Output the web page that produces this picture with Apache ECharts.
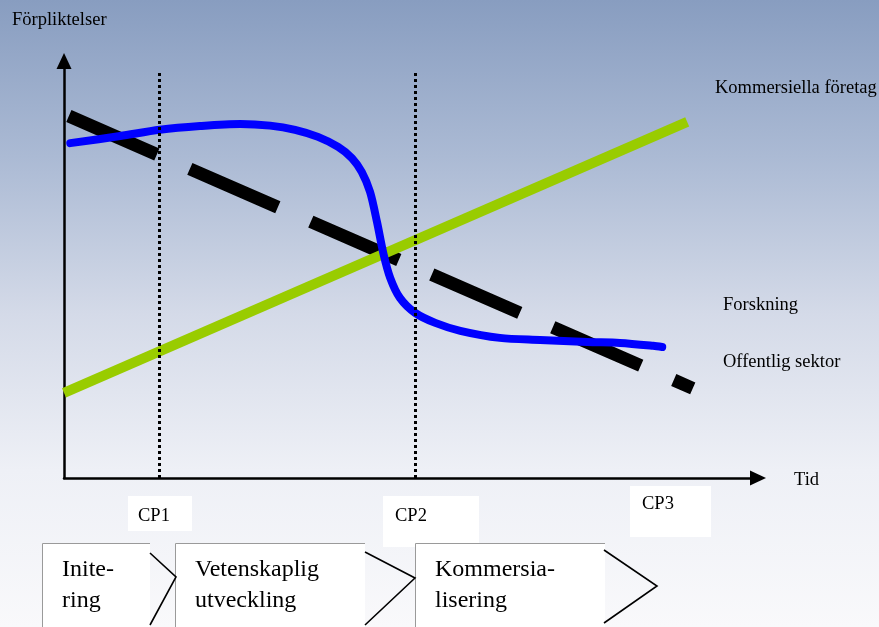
<!DOCTYPE html>
<html>
<head>
<meta charset="utf-8">
<script src="https://cdn.jsdelivr.net/npm/echarts@6/dist/echarts.min.js"></script>
<style>
  html, body { margin: 0; padding: 0; }
  #chart { width: 879px; height: 627px;
    background: linear-gradient(to bottom, #889dc0 0%, #abbad4 25%, #d4dae8 50%, #eef0f6 75%, #f9f9fb 100%); }
</style>
</head>
<body>
<div id="chart"></div>
<script>
// Values (time 0..100, commitment 0..100)
const greenLine = [[0, 20.4], [89.8, 85.4]];            // Kommersiella företag
const blackLine = [[0.7, 86.8], [90.6, 21.5]];          // Offentlig sektor
const blueCurve = [
  [0.9, 80.3], [8.1, 82.0], [13.8, 83.5], [19.6, 84.4], [25.4, 84.9], [29.7, 84.5],
  [33.3, 83.5], [36.6, 81.8], [39.5, 79.4], [41.5, 76.7], [42.9, 73.4], [44.1, 68.6],
  [45.1, 61.4], [46.0, 54.0], [47.0, 48.0], [48.4, 43.2], [50.6, 39.6], [53.5, 37.2],
  [57.1, 35.3], [62.8, 33.6], [68.6, 33.1], [75.4, 32.6], [80.1, 32.4], [84.9, 31.7], [86.2, 31.4]
];                                                      // Forskning
const cpNames = ['CP1', 'CP2', 'CP3'];
const cpX = [13.7, 50.6, 85.4];
const cpTop = [97.8, 97.8, 93.5];
const cpBottom = [0, 0, -1.9];
const phaseTexts = ['Inite-\nring', 'Vetenskaplig\nutveckling', 'Kommersia-\nlisering'];
const axisNames = ['Tid', 'Förpliktelser'];
const seriesNames = ['Kommersiella företag', 'Forskning', 'Offentlig sektor'];

const chart = echarts.init(document.getElementById('chart'), null, { renderer: 'canvas' });
const serif = '"Liberation Serif", "Times New Roman", serif';
const labelFont = '18.5px ' + serif;

const axisCommon = {
  type: 'value', min: 0, max: 100,
  axisLabel: { show: false }, axisTick: { show: false }, splitLine: { show: false },
  axisLine: { show: true, symbol: ['none', 'triangle'], symbolSize: [15, 16],
    lineStyle: { color: '#000', width: 2.5 } }
};

const markData = cpX.map((x, i) => [
  { coord: [x, cpBottom[i]] }, { coord: [x, cpTop[i]] }
]);

const graphics = [];
function addText(t, x, y, font) {
  graphics.push({ type: 'text', z: 10, x: x, y: y,
    style: { text: t, font: font, fill: '#000', align: 'left', verticalAlign: 'middle' } });
}
addText(axisNames[1], 12, 20, labelFont);
addText(axisNames[0], 794, 480, labelFont);
const seriesLabelPos = [[715, 88], [723, 305], [723, 362]];
seriesNames.forEach((t, i) => addText(t, seriesLabelPos[i][0], seriesLabelPos[i][1], labelFont));

// CP label boxes
const cpBox = [[128, 496, 64, 35], [383, 496, 96, 51], [630, 486, 81, 51]];
const cpText = [[138, 516], [395, 516], [642, 504]];
cpNames.forEach((t, i) => {
  graphics.push({ type: 'rect', z: 5, shape: { x: cpBox[i][0], y: cpBox[i][1], width: cpBox[i][2], height: cpBox[i][3] },
    style: { fill: '#ffffff' } });
  addText(t, cpText[i][0], cpText[i][1], labelFont);
});

// phase boxes and chevrons
const phaseBox = [[42, 543, 108], [175, 543, 190], [415, 543, 190]];
const chevrons = [
  [[150, 553], [176, 577], [150, 625]],
  [[365, 552], [415, 578], [365, 625]],
  [[604, 550], [657, 586], [604, 623]]
];
phaseTexts.forEach((t, i) => {
  const [x, y, w] = phaseBox[i];
  graphics.push({ type: 'rect', z: 5, shape: { x: x, y: y, width: w, height: 627 - y + 2 }, style: { fill: '#ffffff' } });
  graphics.push({ type: 'polyline', z: 6, shape: { points: [[x + 0.5, 628], [x + 0.5, y + 0.5], [x + w, y + 0.5]] },
    style: { stroke: '#9a9a9a', lineWidth: 1, fill: null } });
  graphics.push({ type: 'polyline', z: 7, shape: { points: chevrons[i] },
    style: { stroke: '#000', lineWidth: 1.6, fill: null } });
  graphics.push({ type: 'text', z: 8, x: x + 20, y: y + 11,
    style: { text: t, font: '24px ' + serif, fill: '#000', lineHeight: 31 } });
});

chart.setOption({
  backgroundColor: 'transparent',
  animation: false,
  grid: { left: 64, top: 61, width: 694, height: 417, containLabel: false },
  xAxis: axisCommon,
  yAxis: axisCommon,
  series: [
    { name: seriesNames[2], type: 'line', data: blackLine, symbol: 'none', z: 2,
      lineStyle: { color: '#000', width: 13, type: [96, 36], cap: 'butt' } },
    { name: seriesNames[0], type: 'line', data: greenLine, symbol: 'none', z: 3,
      lineStyle: { color: '#99cc00', width: 10, cap: 'butt' } },
    { name: seriesNames[1], type: 'line', data: blueCurve, symbol: 'none', smooth: 0.3, z: 4,
      lineStyle: { color: '#0000ff', width: 8, cap: 'round', join: 'round' } },
    { type: 'line', data: [], z: 5, silent: true,
      markLine: { symbol: ['none', 'none'], silent: true, label: { show: false },
        lineStyle: { color: '#000', width: 3, type: [3, 3], cap: 'butt' },
        emphasis: { disabled: true },
        data: markData } }
  ],
  graphic: graphics
});
</script>
</body>
</html>
